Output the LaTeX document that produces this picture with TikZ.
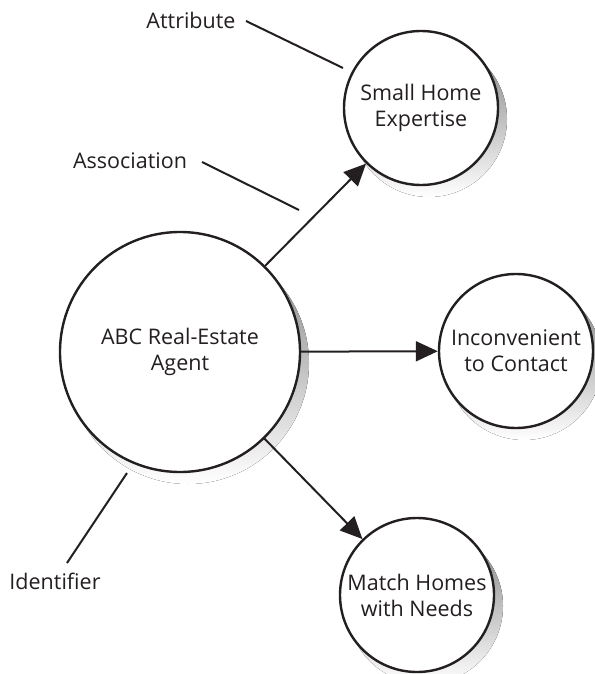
\documentclass[tikz,border=0pt]{standalone}
\usepackage{fontspec}
\setmainfont{Open Sans}
\usetikzlibrary{arrows.meta}
\definecolor{ink}{HTML}{231F20}
\definecolor{shade}{HTML}{CFD0D3}
\begin{document}
\begin{tikzpicture}[x=1pt,y=-1pt,
  bubble/.style={circle, draw=ink, line width=2.4pt, fill=white, text=ink,
    align=center, font=\fontsize{21.5}{26}\selectfont, inner sep=0pt},
  bigbubble/.style={bubble, minimum size=240pt},
  smallbubble/.style={bubble, minimum size=154pt},
  link/.style={draw=ink, line width=2pt, -{Triangle[length=22pt,width=20pt]}},
  leader/.style={draw=ink, line width=2pt},
  tag/.style={text=ink, font=\fontsize{21.5}{26}\selectfont, inner sep=0pt}]
\useasboundingbox (0,0) rectangle (594,674);

% bubble centres
\coordinate (agentC) at (180,352);
\coordinate (smallC) at (421,108);
\coordinate (inconC) at (516,351);
\coordinate (matchC) at (417,595);

% offset shadows, drawn first so the bubbles cover them
\fill[shade] ([shift={(8pt,-11pt)}]agentC) circle[radius=121pt];
\fill[shade] ([shift={(8pt,-11pt)}]smallC) circle[radius=78pt];
\fill[shade] ([shift={(8pt,-11pt)}]inconC) circle[radius=78pt];
\fill[shade] ([shift={(8pt,-11pt)}]matchC) circle[radius=78pt];

% concept bubbles
\node[bigbubble]   (agent) at (agentC) {ABC Real-Estate\\Agent};
\node[smallbubble] (small) at (smallC) {Small Home\\Expertise};
\node[smallbubble] (incon) at (inconC) {Inconvenient\\to Contact};
\node[smallbubble] (match) at (matchC) {Match Homes\\with Needs};

% relations
\draw[link] (agent) -- (small);
\draw[link] (agent) -- (incon);
\draw[link] (agent) -- (match);

% callout labels
\node[tag] (attr)  at (191,20)  {Attribute};
\node[tag] (assoc) at (130,161) {Association};
\node[tag] (ident) at (55,581)  {Identifier};

\coordinate (attrTail)  at (246,21);
\coordinate (attrHead)  at (343,68);
\coordinate (assocTail) at (202,162);
\coordinate (assocHead) at (299,210);
\coordinate (identTail) at (67,563);
\coordinate (identHead) at (127,473);

\draw[leader] (attrTail)  -- (attrHead);
\draw[leader] (assocTail) -- (assocHead);
\draw[leader] (identTail) -- (identHead);
\end{tikzpicture}
\end{document}
